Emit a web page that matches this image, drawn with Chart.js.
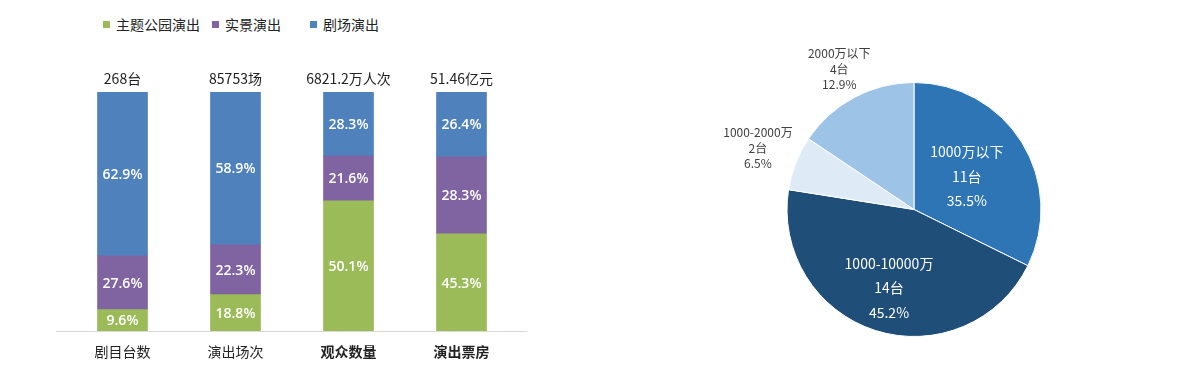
<!DOCTYPE html>
<html>
<head>
<meta charset="utf-8">
<script src="https://cdn.jsdelivr.net/npm/chart.js@4.4.1/dist/chart.umd.min.js"></script>
<style>
  body { margin: 0; background: #fff; width: 1200px; height: 377px; overflow: hidden; position: relative;
         font-family: "Noto Sans CJK SC", sans-serif; }
  #barChart { position: absolute; left: 0; top: 0; }
  #pieChart { position: absolute; left: 600px; top: 0; }
  .legend-item { position: absolute; top: 15px; font-size: 14px; line-height: 18px; color: #222; white-space: nowrap; }
  .legend-item i { display: inline-block; width: 7px; height: 7px; margin-right: 6px; vertical-align: middle;
                   position: relative; top: -2px; }
</style>
</head>
<body>
<div id="legend"></div>
<canvas id="barChart" width="560" height="377"></canvas>
<canvas id="pieChart" width="600" height="377"></canvas>
<script>
// 左图：演出类型占比（柱高按原图量取，文字按原图标注）
const categories = ['剧目台数', '演出场次', '观众数量', '演出票房'];
const totals = ['268台', '85753场', '6821.2万人次', '51.46亿元'];
const seriesNames = ['主题公园演出', '实景演出', '剧场演出'];
const parkShare = [9.0, 15.3, 54.5, 40.7];
const sceneShare = [22.5, 20.8, 18.7, 32.2];
const theatreShare = [68.5, 63.9, 26.8, 27.1];
const parkLabels = ['9.6%', '18.8%', '50.1%', '45.3%'];
const sceneLabels = ['27.6%', '22.3%', '21.6%', '28.3%'];
const theatreLabels = ['62.9%', '58.9%', '28.3%', '26.4%'];

// 右图：剧场演出票房分布
const pieNames = ['1000万以下', '1000-10000万', '1000-2000万', '2000万以下'];
const pieCounts = ['11台', '14台', '2台', '4台'];
const piePercents = ['35.5%', '45.2%', '6.5%', '12.9%'];
const pieShare = [32.3, 45.2, 6.9, 15.6];

const barColors = ['#9BBB59', '#8064A2', '#4F81BD'];
const pieColors = ['#2E75B6', '#1F4E79', '#DEEBF7', '#9DC3E6'];

// 图例（HTML）
const legendLeft = [103, 212, 310];
const legend = document.getElementById('legend');
seriesNames.forEach(function(name, i) {
    const item = document.createElement('div');
    item.className = 'legend-item';
    item.style.left = legendLeft[i] + 'px';
    item.innerHTML = '<i style="background:' + barColors[i] + '"></i>' + name;
    legend.appendChild(item);
});

// 柱内百分比、柱顶总量、底线
const barLabelPlugin = {
    id: 'barLabels',
    afterDatasetsDraw(chart) {
        const ctx = chart.ctx;
        const area = chart.chartArea;
        ctx.save();
        ctx.strokeStyle = '#d9d9d9';
        ctx.lineWidth = 1;
        ctx.beginPath();
        ctx.moveTo(area.left - 10, Math.round(area.bottom) + 0.5);
        ctx.lineTo(area.right + 9, Math.round(area.bottom) + 0.5);
        ctx.stroke();

        ctx.textAlign = 'center';
        ctx.textBaseline = 'middle';
        ctx.font = '600 14px "Open Sans", sans-serif';
        ctx.fillStyle = '#fff';
        chart.data.datasets.forEach(function(ds, i) {
            chart.getDatasetMeta(i).data.forEach(function(bar, j) {
                ctx.fillText(ds.valueLabels[j], bar.x, (bar.y + bar.base) / 2 + 1);
            });
        });

        const topY = chart.scales.y.getPixelForValue(100);
        ctx.font = '14px "Noto Sans CJK SC", sans-serif';
        ctx.fillStyle = '#222';
        chart.getDatasetMeta(0).data.forEach(function(bar, j) {
            ctx.fillText(totals[j], bar.x, topY - 13);
        });
        ctx.restore();
    }
};

new Chart(document.getElementById('barChart').getContext('2d'), {
    type: 'bar',
    data: {
        labels: categories,
        datasets: [
            { label: seriesNames[0], data: parkShare, valueLabels: parkLabels, backgroundColor: barColors[0] },
            { label: seriesNames[1], data: sceneShare, valueLabels: sceneLabels, backgroundColor: barColors[1] },
            { label: seriesNames[2], data: theatreShare, valueLabels: theatreLabels, backgroundColor: barColors[2] }
        ]
    },
    options: {
        responsive: false,
        animation: false,
        barThickness: 50,
        layout: { padding: { left: 66, right: 42, top: 92, bottom: 5 } },
        plugins: { legend: { display: false }, tooltip: { enabled: false } },
        scales: {
            x: {
                stacked: true,
                grid: { display: false, drawTicks: false },
                border: { display: false },
                ticks: {
                    padding: 12,
                    color: '#222',
                    font: function(c) {
                        return { family: '"Noto Sans CJK SC", sans-serif', size: 14, weight: c.index >= 2 ? 'bold' : 'normal' };
                    }
                }
            },
            y: { stacked: true, display: false, min: 0, max: 100 }
        }
    },
    plugins: [barLabelPlugin]
});

// 饼图标签：三行文字，沿扇区中线放置
const pieLabelPlugin = {
    id: 'pieLabels',
    afterDatasetsDraw(chart, args, opts) {
        const ctx = chart.ctx;
        ctx.save();
        ctx.textAlign = 'center';
        ctx.textBaseline = 'middle';
        chart.getDatasetMeta(0).data.forEach(function(arc, i) {
            const mid = (arc.startAngle + arc.endAngle) / 2;
            const k = opts.radius[i];
            const x = arc.x + Math.cos(mid) * arc.outerRadius * k;
            const y = arc.y + Math.sin(mid) * arc.outerRadius * k;
            const inside = k < 1;
            const lh = inside ? 24.5 : 15.5;
            ctx.font = (inside ? 14 : 12) + 'px "Noto Sans CJK SC", sans-serif';
            ctx.fillStyle = inside ? '#fff' : '#404040';
            [pieNames[i], pieCounts[i], piePercents[i]].forEach(function(t, n) {
                ctx.fillText(t, x, y + (n - 1) * lh);
            });
        });
        ctx.restore();
    }
};

new Chart(document.getElementById('pieChart').getContext('2d'), {
    type: 'pie',
    data: {
        labels: pieNames,
        datasets: [{
            data: pieShare,
            backgroundColor: pieColors,
            borderColor: '#fff',
            borderWidth: 1
        }]
    },
    options: {
        responsive: false,
        animation: false,
        layout: { padding: { left: 186, right: 158, top: 82, bottom: 40 } },
        plugins: {
            legend: { display: false },
            tooltip: { enabled: false },
            pieLabels: { radius: [0.49, 0.65, 1.32, 1.25] }
        }
    },
    plugins: [pieLabelPlugin]
});
</script>
</body>
</html>
